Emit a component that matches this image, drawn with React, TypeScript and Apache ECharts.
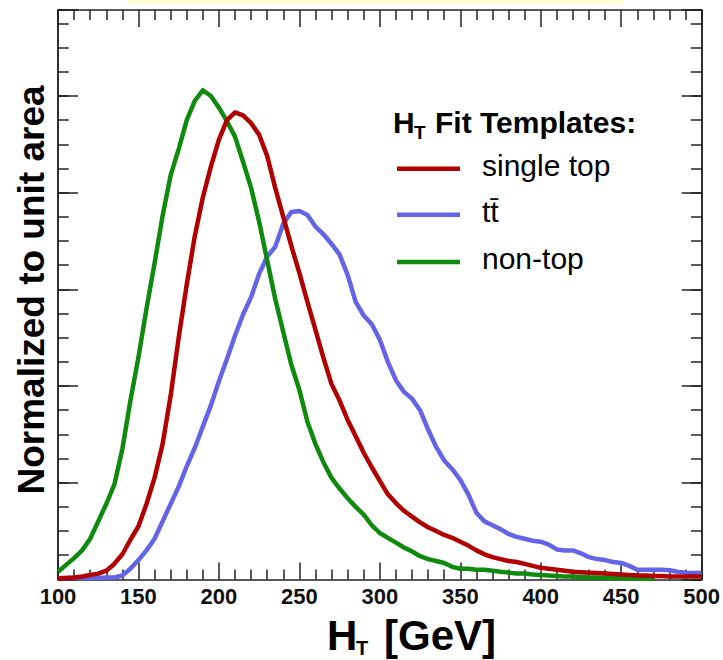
import React, { useEffect, useRef } from "react";
import * as echarts from "echarts";

// Bin centres (GeV)
const ht = [
  100, 105, 110, 115, 120, 125, 130, 135, 140, 145,
  150, 155, 160, 165, 170, 175, 180, 185, 190, 195,
  200, 205, 210, 215, 220, 225, 230, 235, 240, 245,
  250, 255, 260, 265, 270, 275, 280, 285, 290, 295,
  300, 305, 310, 315, 320, 325, 330, 335, 340, 345,
  350, 355, 360, 365, 370, 375, 380, 385, 390, 395,
  400, 405, 410, 415, 420, 425, 430, 435, 440, 445,
  450, 455, 460, 465, 470, 475, 480, 485, 490, 495,
  500,
];

const singleTop = [
  0.01, 0.015, 0.02, 0.03, 0.045, 0.06, 0.09, 0.16, 0.26, 0.41,
  0.55, 0.78, 1.05, 1.4, 1.9, 2.5, 3.05, 3.55, 3.95, 4.27,
  4.55, 4.75, 4.83, 4.8, 4.72, 4.6, 4.38, 4.05, 3.75, 3.45,
  3.17, 2.87, 2.58, 2.29, 2.02, 1.85, 1.65, 1.48, 1.31, 1.16,
  1.02, 0.88, 0.79, 0.71, 0.65, 0.59, 0.54, 0.5, 0.46, 0.43,
  0.39, 0.35, 0.3, 0.26, 0.23, 0.21, 0.19, 0.18, 0.16, 0.14,
  0.12, 0.11, 0.1, 0.09, 0.08, 0.075, 0.07, 0.065, 0.06, 0.055,
  0.05, 0.045, 0.04, 0.04, 0.035, 0.035, 0.03, 0.03, 0.03, 0.03,
  0.03,
];

const ttbar = [
  0.015, 0.015, 0.015, 0.015, 0.015, 0.015, 0.02, 0.02, 0.04, 0.11,
  0.2, 0.3, 0.42, 0.6, 0.78, 0.96, 1.17, 1.36, 1.58, 1.8,
  2.05, 2.28, 2.52, 2.74, 2.92, 3.16, 3.34, 3.44, 3.68, 3.8,
  3.81, 3.77, 3.65, 3.57, 3.47, 3.36, 3.15, 2.87, 2.73, 2.64,
  2.48, 2.25, 2.06, 1.94, 1.87, 1.75, 1.55, 1.37, 1.23, 1.14,
  1.03, 0.88, 0.69, 0.6, 0.56, 0.52, 0.47, 0.44, 0.42, 0.4,
  0.39, 0.36, 0.31, 0.3, 0.3, 0.27, 0.23, 0.21, 0.2, 0.18,
  0.17, 0.14, 0.1, 0.1, 0.1, 0.1, 0.095, 0.08, 0.07, 0.065,
  0.07,
];

// non-top ends at 470 GeV (hidden by axis beyond)
const nonTop = [
  0.08, 0.15, 0.22, 0.3, 0.42, 0.6, 0.78, 0.98, 1.35, 1.85,
  2.3, 2.8, 3.27, 3.76, 4.18, 4.45, 4.75, 4.95, 5.06, 5.0,
  4.88, 4.74, 4.58, 4.32, 4.05, 3.7, 3.3, 2.9, 2.56, 2.22,
  1.96, 1.63, 1.4, 1.21, 1.05, 0.94, 0.84, 0.75, 0.67, 0.56,
  0.48, 0.43, 0.38, 0.33, 0.29, 0.24, 0.21, 0.19, 0.17, 0.13,
  0.11, 0.11, 0.1, 0.1, 0.09, 0.08, 0.07, 0.06, 0.06, 0.05,
  0.045, 0.04, 0.035, 0.03, 0.03, 0.025, 0.02, 0.02, 0.015, 0.015,
  0.01, 0.01, 0.01, 0.008, 0.005,
];

const legendNames = ["single top", "tt\u0304", "non-top"];
const colors = { single: "#b00000", tt: "#6464e6", non: "#0f8a0f" };

const FONT = "'Liberation Sans', Arial, Helvetica, sans-serif";
const AX = "#222";

export default function App() {
  const ref = useRef<HTMLDivElement>(null);
  useEffect(() => {
    document.body.style.margin = "0";
    if (!ref.current) return;
    const chart = echarts.init(ref.current, null, { renderer: "svg" });

    const pairs = (vals: number[]) => vals.map((v, i) => [ht[i], v]);

    const xCommon = (pos: "top" | "bottom", labels: boolean) => ({
      type: "value",
      min: 100,
      max: 500,
      interval: 50,
      position: pos,
      axisLine: { show: true, onZero: false, lineStyle: { color: AX, width: 1.5 } },
      axisTick: { show: true, inside: true, length: 17, lineStyle: { color: AX, width: 1.5 } },
      minorTick: { show: true, splitNumber: 5, length: 10, lineStyle: { color: AX, width: 1.5 } },
      axisLabel: {
        show: labels,
        margin: 6,
        fontSize: 22,
        fontWeight: "bold",
        color: "#111",
        fontFamily: FONT,
      },
      splitLine: { show: false },
      minorSplitLine: { show: false },
    });

    const yCommon = (pos: "left" | "right", interval: number, len: number) => ({
      type: "value",
      min: 0,
      max: 5.89,
      interval,
      position: pos,
      axisLine: { show: true, onZero: false, lineStyle: { color: AX, width: 1.5 } },
      axisTick: { show: true, inside: true, length: len, lineStyle: { color: AX, width: 1.5 } },
      axisLabel: { show: false },
      splitLine: { show: false },
    });

    const lineSeries = (name: string, vals: number[], color: string, z: number) => ({
      type: "line",
      name,
      showSymbol: false,
      symbol: "none",
      xAxisIndex: 0,
      yAxisIndex: 0,
      data: pairs(vals),
      lineStyle: { color, width: 4.5, join: "round" },
      itemStyle: { color },
      z,
    });

    const legendY = [168.7, 214.7, 262];
    const legendColors = [colors.single, colors.tt, colors.non];

    const txt = (x: number, y: number, text: string, fontSize: number, bold: boolean) => ({
      type: "text",
      x,
      y,
      style: {
        text,
        fontSize,
        fontWeight: bold ? "bold" : "normal",
        fontFamily: FONT,
        fill: "#000",
        align: "left",
        verticalAlign: "middle",
        textAlign: "left",
        textVerticalAlign: "middle",
      },
    });

    const graphic: any[] = [
      { type: "rect", shape: { x: 127, y: 0, width: 496, height: 3 }, style: { fill: "#ffffcc" }, silent: true },
      {
        type: "text",
        x: 31,
        y: 290,
        rotation: Math.PI / 2,
        style: {
          text: "Normalized to unit area",
          fontSize: 37,
          fontWeight: "bold",
          fontFamily: FONT,
          fill: "#000",
          align: "center",
          verticalAlign: "middle",
          textAlign: "center",
          textVerticalAlign: "middle",
        },
      },
      // x title H_T [GeV]
      txt(327, 635, "H", 42, true),
      txt(356, 648, "T", 20, true),
      txt(384, 635, "[GeV]", 42, true),
      // legend title
      txt(393, 122, "H", 30, true),
      txt(414, 132, "T", 19, true),
      txt(435, 122, "Fit Templates:", 30, true),
    ];
    legendNames.forEach((name, i) => {
      graphic.push({
        type: "line",
        shape: { x1: 397, y1: legendY[i], x2: 460, y2: legendY[i] },
        style: { stroke: legendColors[i], lineWidth: 4.5 },
      });
      graphic.push(txt(482, legendY[i] - 3.5, name, 30, false));
    });

    chart.setOption({
      animation: false,
      backgroundColor: "#fff",
      grid: { left: 58, right: 21, top: 10, bottom: 80.6, containLabel: false },
      xAxis: [xCommon("bottom", true), xCommon("top", false)],
      yAxis: [
        yCommon("left", 1, 20),
        yCommon("left", 0.25, 10.7),
        yCommon("right", 1, 20),
        yCommon("right", 0.25, 10.7),
      ],
      series: [
        lineSeries("tt", ttbar, colors.tt, 2),
        lineSeries("non-top", nonTop, colors.non, 3),
        lineSeries("single top", singleTop, colors.single, 4),
      ],
      graphic,
    });

    return () => chart.dispose();
  }, []);

  return <div ref={ref} style={{ width: 723, height: 660 }} />;
}
